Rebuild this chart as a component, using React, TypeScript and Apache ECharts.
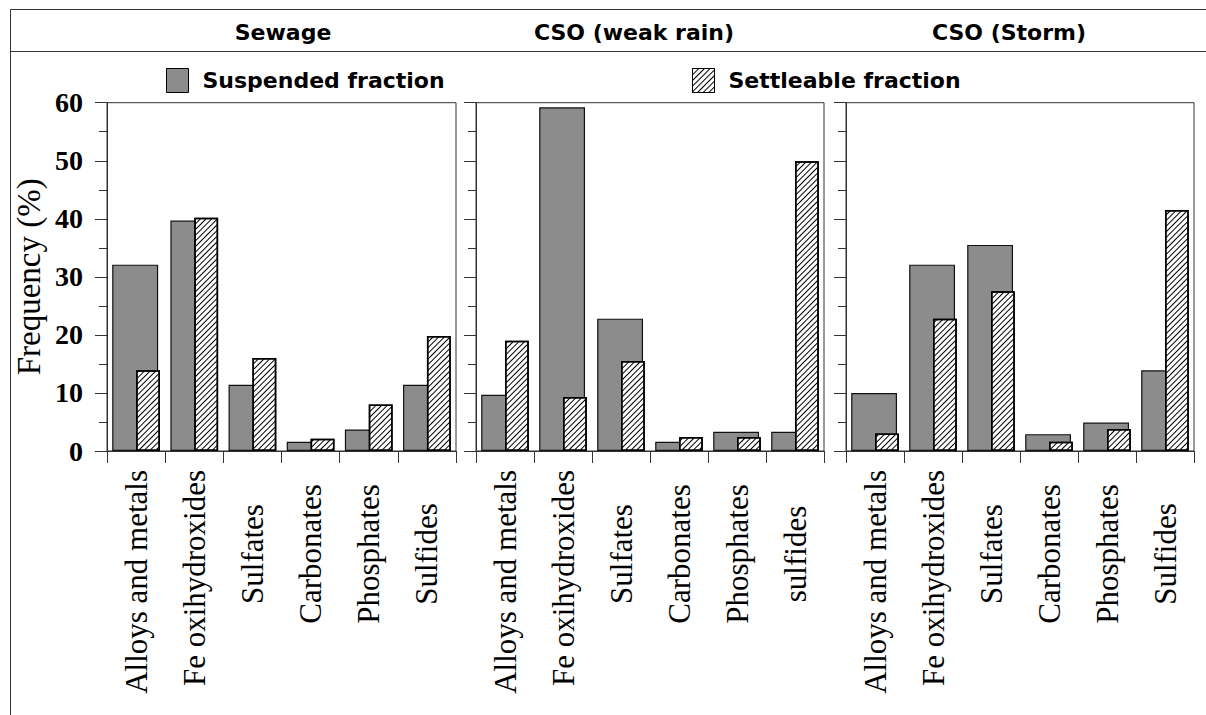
import React, { useEffect, useRef } from 'react';
import * as echarts from 'echarts';

const panelTitles = ['Sewage', 'CSO (weak rain)', 'CSO (Storm)'];
const seriesNames = ['Suspended fraction', 'Settleable fraction'];

const categoriesSewage = ['Alloys and metals', 'Fe oxihydroxides', 'Sulfates', 'Carbonates', 'Phosphates', 'Sulfides'];
const categoriesWeakRain = ['Alloys and metals', 'Fe oxihydroxides', 'Sulfates', 'Carbonates', 'Phosphates', 'sulfides'];
const categoriesStorm = ['Alloys and metals', 'Fe oxihydroxides', 'Sulfates', 'Carbonates', 'Phosphates', 'Sulfides'];

const suspendedSewage = [32.1, 39.7, 11.4, 1.6, 3.7, 11.4];
const settleableSewage = [13.9, 40.2, 16.0, 2.1, 8.0, 19.8];
const suspendedWeakRain = [9.7, 59.2, 22.8, 1.6, 3.3, 3.3];
const settleableWeakRain = [19.0, 9.3, 15.5, 2.4, 2.4, 49.9];
const suspendedStorm = [10.0, 32.1, 35.5, 2.9, 4.9, 13.9];
const settleableStorm = [3.0, 22.8, 27.5, 1.6, 3.8, 41.5];

const yTicks = [0, 10, 20, 30, 40, 50, 60];
const yAxisName = 'Frequency (%)';

const SERIF = '"Liberation Serif", "Times New Roman", serif';
const SANS = '"DejaVu Sans", sans-serif';
const LINE = '#333';

export default function App() {
  const ref = useRef<HTMLDivElement>(null);

  useEffect(() => {
    if (!ref.current) return;
    const chart = echarts.init(ref.current, null, { renderer: 'svg' });

    const canvas = document.createElement('canvas');
    const ctx = canvas.getContext('2d');
    const labelFont = 31;
    const measure = (t: string) => {
      if (!ctx) return t.length * labelFont * 0.45;
      ctx.font = `${labelFont}px "Liberation Serif"`;
      return ctx.measureText(t).width;
    };
    const labelCenterOffset = 103; // distance of centred label from axis
    const labelStartOffset = 19; // minimal gap of long labels from axis
    const padFor = (t: string) => {
      const w = measure(t);
      const shift = Math.max(0, labelStartOffset + w / 2 - labelCenterOffset);
      return 2 * shift;
    };

    const panels = [
      { cats: categoriesSewage, sus: suspendedSewage, set: settleableSewage },
      { cats: categoriesWeakRain, sus: suspendedWeakRain, set: settleableWeakRain },
      { cats: categoriesStorm, sus: suspendedStorm, set: settleableStorm },
    ];
    const gridLefts = [107, 476, 846];
    const gridWidths = [349, 348, 348];
    const gridTop = 102.7;
    const gridHeight = 348.3;
    const titleX = [283, 634, 1009];

    const yMin = yTicks[0];
    const yMax = yTicks[yTicks.length - 1];
    const yStep = yTicks[1] - yTicks[0];

    const grid = panels.map((_, i) => ({
      left: gridLefts[i],
      top: gridTop,
      width: gridWidths[i],
      height: gridHeight,
      show: true,
      borderColor: LINE,
      borderWidth: 1,
      backgroundColor: 'transparent',
      containLabel: false,
    }));

    const xAxis = panels.map((p, i) => ({
      type: 'category',
      gridIndex: i,
      data: p.cats,
      axisLine: { show: true, lineStyle: { color: LINE, width: 1 } },
      axisTick: { show: true, length: 12, lineStyle: { color: LINE } },
      axisLabel: {
        interval: 0,
        rotate: 90,
        align: 'center',
        verticalAlign: 'middle',
        margin: labelCenterOffset,
        color: '#000',
        fontFamily: SERIF,
        fontSize: labelFont,
        formatter: (v: string, idx: number) => `{c${idx}|${v}}`,
        rich: Object.fromEntries(
          p.cats.map((c, k) => [
            `c${k}`,
            { fontFamily: SERIF, fontSize: labelFont, color: '#000', padding: [0, padFor(c), 0, 0] },
          ])
        ),
      },
      splitLine: { show: false },
    }));

    const yAxis = panels.map((_, i) => ({
      type: 'value',
      gridIndex: i,
      min: yMin,
      max: yMax,
      interval: yStep,
      name: i === 0 ? yAxisName : '',
      nameLocation: 'middle',
      nameGap: 62,
      nameTextStyle: { fontFamily: SERIF, fontSize: 33, color: '#000' },
      axisLine: { show: true, lineStyle: { color: LINE, width: 1 } },
      axisTick: { show: true, length: 12, lineStyle: { color: LINE } },
      minorTick: { show: true, splitNumber: 2, length: 8, lineStyle: { color: LINE } },
      axisLabel: {
        show: i === 0,
        margin: 24,
        color: '#000',
        fontFamily: SERIF,
        fontSize: 28,
        fontWeight: 'bold',
      },
      splitLine: { show: false },
    }));

    const hatch = {
      symbol: 'rect',
      symbolSize: 1,
      color: '#000',
      dashArrayX: [1, 0],
      dashArrayY: [1, 2.6],
      rotation: -Math.PI / 4,
    };

    const series: any[] = [];
    panels.forEach((p, i) => {
      series.push({
        type: 'bar',
        name: seriesNames[0],
        xAxisIndex: i,
        yAxisIndex: i,
        data: p.sus,
        barWidth: '79%',
        barGap: '-48%',
        itemStyle: { color: '#8c8c8c', borderColor: '#111', borderWidth: 1.2 },
      });
      series.push({
        type: 'bar',
        name: seriesNames[1],
        xAxisIndex: i,
        yAxisIndex: i,
        data: p.set,
        barWidth: '41%',
        barGap: '-48%',
        itemStyle: {
          color: '#ffffff',
          borderColor: '#000',
          borderWidth: 1.5,
          decal: hatch,
        },
      });
    });

    const legendText = { fontFamily: SANS, fontWeight: 'bold', fontSize: 22, color: '#000', padding: [0, 0, 0, 9] };
    const legend = [
      {
        data: [seriesNames[0]],
        left: 166,
        top: 68,
        padding: 0,
        itemWidth: 22,
        itemHeight: 24,
        icon: 'rect',
        selectedMode: false,
        itemStyle: { borderColor: '#000', borderWidth: 1 },
        textStyle: legendText,
      },
      {
        data: [seriesNames[1]],
        left: 692,
        top: 68,
        padding: 0,
        itemWidth: 22,
        itemHeight: 24,
        icon: 'rect',
        selectedMode: false,
        itemStyle: { borderColor: '#000', borderWidth: 1 },
        textStyle: legendText,
      },
    ];

    const title = panelTitles.map((t, i) => ({
      text: t,
      left: titleX[i],
      top: 21,
      padding: 0,
      textAlign: 'center',
      textStyle: { fontFamily: SANS, fontWeight: 'bold', fontSize: 22, color: '#000' },
    }));

    const graphic = [
      { type: 'line', shape: { x1: 10.5, y1: 9.5, x2: 1206, y2: 9.5 }, style: { stroke: LINE, lineWidth: 1 } },
      { type: 'line', shape: { x1: 10.5, y1: 51.5, x2: 1206, y2: 51.5 }, style: { stroke: LINE, lineWidth: 1 } },
      { type: 'line', shape: { x1: 10.5, y1: 9.5, x2: 10.5, y2: 715 }, style: { stroke: LINE, lineWidth: 1 } },
    ];

    chart.setOption({
      animation: false,
      backgroundColor: '#ffffff',
      title,
      legend,
      grid,
      xAxis,
      yAxis,
      series,
      graphic,
    } as any);

    return () => chart.dispose();
  }, []);

  return (
    <div
      ref={ref}
      style={{ position: 'absolute', left: 0, top: 0, width: 1206, height: 715, background: '#fff' }}
    />
  );
}
